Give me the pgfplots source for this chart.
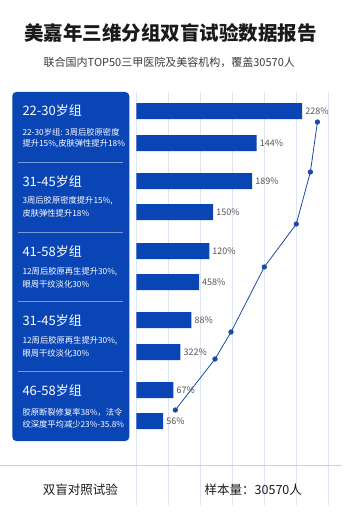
\documentclass[border=0pt]{standalone}
\usepackage{pgfplots}
\pgfplotsset{compat=1.18}
\usepackage{fontspec}
\setmainfont{Noto Sans CJK SC}
\definecolor{mainblue}{HTML}{0A45B5}
\definecolor{linec}{HTML}{1A4AA8}
\definecolor{gridc}{HTML}{DCE5F2}
\definecolor{labc}{HTML}{555555}
\definecolor{titc}{HTML}{1A1A1A}
\begin{document}
\begin{tikzpicture}
\fill[white] (0pt,0pt) rectangle (356pt,-518pt);
\begin{axis}[
  at={(136pt,-92pt)}, anchor=north west,
  scale only axis, width=220pt, height=413pt,
  xmin=0, xmax=343.75, ymin=92, ymax=505,
  y dir=reverse, clip=false,
  axis line style={draw=none},
  xtick={0,50,...,300}, xticklabels={}, ytick=\empty,
  major tick length=0pt,
  xmajorgrids, grid style={color=gridc, line width=0.7pt},
]
\addplot[xbar, bar width=16pt, fill=mainblue, draw=none,
  point meta=explicit symbolic,
  nodes near coords={\pgfplotspointmeta\%},
  nodes near coords align={horizontal},
  every node near coord/.append style={anchor=west, font=\fontsize{9}{10}\selectfont, text=labc, inner sep=3pt}]
 table[meta=label] {
x y label
259 111 228
188 143 144
181 181 189
120 212 150
114 251 120
98 282 458
86 320 88
69 352 322
58 390 67
42 421 56
};
\addplot[linec, line width=0.8pt, mark=*, mark size=2.2pt, mark options={fill=linec}]
 coordinates {(283,122) (272,172) (250,224) (200,267) (148,332) (123,359) (61,410)};
\end{axis}
\begin{scope}[x=1pt,y=-1pt]
% panel
\fill[mainblue, rounded corners=4pt] (12,92) rectangle (129,441);
\foreach \yy in {162,232,301,371} \draw[white, opacity=0.45, line width=0.6pt] (18,\yy) -- (123,\yy);
\tikzset{hd/.style={anchor=west, inner sep=0pt, text=white, font=\fontsize{13}{14}\selectfont},
         ds/.style={anchor=west, inner sep=0pt, text=white, font=\fontsize{8.3}{9}\selectfont}}
\node[hd] at (22,111) {22-30岁组};
\node[ds] at (22,132) {22-30岁组: 3周后胶原密度};
\node[ds] at (22,144) {提升15\%,皮肤弹性提升18\%};
\node[hd] at (22,182) {31-45岁组};
\node[ds] at (22,201) {3周后胶原密度提升15\%,};
\node[ds] at (22,213) {皮肤弹性提升18\%};
\node[hd] at (22,252) {41-58岁组};
\node[ds] at (22,272) {12周后胶原再生提升30\%,};
\node[ds] at (22,284) {眼周干纹淡化30\%};
\node[hd] at (22,321) {31-45岁组};
\node[ds] at (22,341) {12周后胶原再生提升30\%,};
\node[ds] at (22,353) {眼周干纹淡化30\%};
\node[hd] at (22,391) {46-58岁组};
\node[ds] at (22,412) {胶原断裂修复率38\%，法令};
\node[ds] at (22,424) {纹深度平均减少23\%-35.8\%};
% titles
\node[text=titc, font=\fontsize{19.5}{21}\selectfont\bfseries] at (170,33) {美嘉年三维分组双盲试验数据报告};
\node[text=titc!85, font=\fontsize{11}{12}\selectfont] at (169,62) {联合国内TOP50三甲医院及美容机构，覆盖30570人};
% bottom
\draw[gridc!80!gray, line width=0.6pt] (0,465) -- (342,465);
\node[text=titc, font=\fontsize{12.5}{13}\selectfont] at (80,490) {双盲对照试验};
\node[text=titc, font=\fontsize{12.5}{13}\selectfont] at (253,490) {样本量：30570人};
\end{scope}
\end{tikzpicture}
\end{document}
